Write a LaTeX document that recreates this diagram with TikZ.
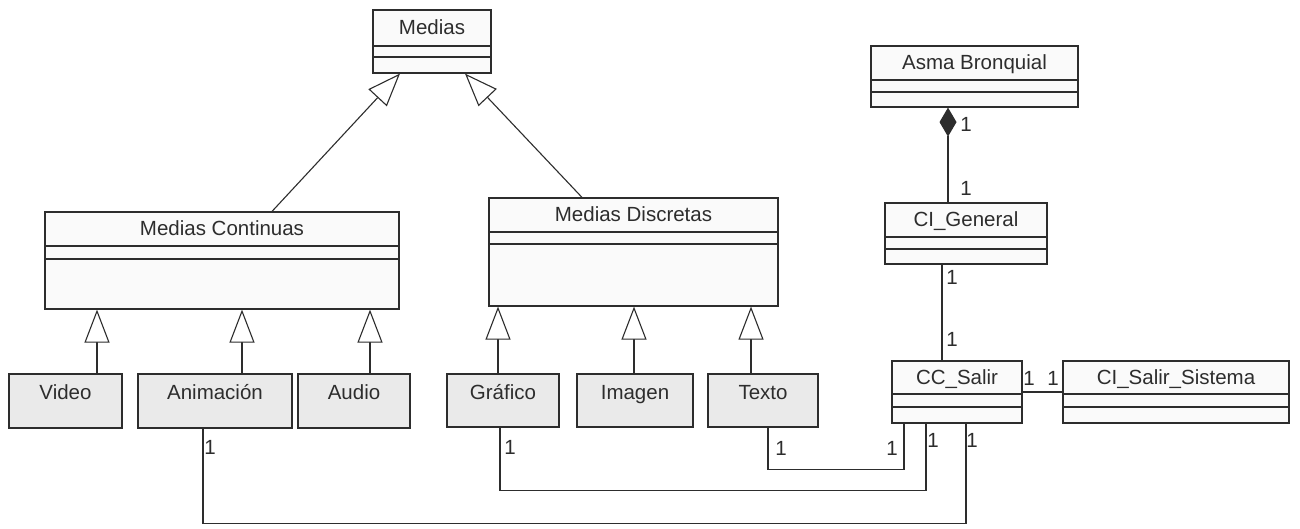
\documentclass[tikz,border=0pt]{standalone}
\usepackage{fontspec}
\setmainfont{Liberation Sans}
\usetikzlibrary{arrows.meta,fit}

\definecolor{ink}{RGB}{45,45,45}
\definecolor{leaf}{RGB}{234,234,234}
\definecolor{paper}{RGB}{250,250,250}

\tikzset{
  frame/.style={draw=ink, line width=1.2pt},
  classbox/.style={frame, fill=paper, inner sep=0pt},
  leafbox/.style={frame, fill=leaf, inner sep=0pt},
  lbl/.style={font=\fontsize{20.5}{24}\selectfont, text=ink, inner sep=0pt},
  gen/.style={draw=ink, line width=1.1pt,
    -{Triangle[open, length=33pt, width=25pt, fill=white]}},
  comp/.style={draw=ink, line width=1.1pt,
    -{Diamond[length=29pt, width=17pt, fill=ink]}},
  assoc/.style={draw=ink, line width=1.1pt},
}

% class with name, two empty compartments: id, x1, y1, x2, y2, sep1, sep2, title
\newcommand{\umlclass}[8]{%
  \node[classbox, fit={(#2,#3) (#4,#5)}] (#1) {};
  \draw[frame] (#2,#6) -- (#4,#6) (#2,#7) -- (#4,#7);
  \node[lbl, anchor=base] (#1-title) at ({(#2+#4)/2},{(#3+#6)/2+7}) {#8};
}
% shaded leaf class: id, x1, y1, x2, y2, title
\newcommand{\umlleaf}[6]{%
  \node[leafbox, fit={(#2,#3) (#4,#5)}] (#1) {};
  \node[lbl, anchor=base] (#1-title) at ({(#2+#4)/2},399) {#6};
}

\begin{document}
\begin{tikzpicture}[x=1pt, y=-1pt]
  \fill[white] (0,0) rectangle (1300,529);
  \useasboundingbox (0,0) rectangle (1300,529);

  % classes
  \umlclass{medias}{373}{10}{491}{73}{46}{57}{Medias}
  \umlclass{mc}{45}{212}{399}{309}{246}{259}{Medias Continuas}
  \umlclass{md}{489}{198}{778}{306}{232}{244}{Medias Discretas}
  \umlclass{asma}{871}{46}{1078}{107}{80}{92}{Asma Bronquial}
  \umlclass{cig}{885}{203}{1047}{264}{237}{249}{CI\_General}
  \umlclass{ccs}{892}{361}{1022}{423}{394}{407}{CC\_Salir}
  \umlclass{css}{1063}{361}{1289}{423}{394}{407}{CI\_Salir\_Sistema}

  % media kinds
  \umlleaf{video}{9}{374}{122}{428}{Video}
  \umlleaf{anim}{138}{374}{292}{428}{Animación}
  \umlleaf{audio}{298}{374}{410}{428}{Audio}
  \umlleaf{graf}{447}{374}{559}{427}{Gráfico}
  \umlleaf{imagen}{577}{374}{693}{427}{Imagen}
  \umlleaf{texto}{708}{374}{818}{427}{Texto}

  % generalizations
  \draw[gen] (mc.north -| 272,0) -- (medias.south -| 400,0);
  \draw[gen] (md.north -| 582,0) -- (medias.south -| 465,0);
  \draw[gen] (video.north -| 97,0) -- (mc.south -| 97,0);
  \draw[gen] (anim.north -| 242,0) -- (mc.south -| 242,0);
  \draw[gen] (audio.north -| 370,0) -- (mc.south -| 370,0);
  \draw[gen] (graf.north -| 498,0) -- (md.south -| 498,0);
  \draw[gen] (imagen.north -| 634,0) -- (md.south -| 634,0);
  \draw[gen] (texto.north -| 751,0) -- (md.south -| 751,0);

  % composition and associations
  \draw[comp] (cig.north -| 948,0) -- (asma.south -| 948,0);
  \draw[assoc] (cig.south -| 942,0) -- (ccs.north -| 942,0);
  \draw[assoc] (ccs.east |- 0,392) -- (css.west |- 0,392);
  \draw[assoc] (texto.south -| 768,0) -- ++(0,42) -| (ccs.south -| 904,0);
  \draw[assoc] (graf.south -| 500,0) -- ++(0,63) -| (ccs.south -| 926,0);
  \draw[assoc] (anim.south -| 203,0) -- ++(0,95) -| (ccs.south -| 966,0);

  % multiplicities
  \node[lbl] (m1) at (966,124) {1};
  \node[lbl] (m2) at (966,188) {1};
  \node[lbl] (m3) at (952,277) {1};
  \node[lbl] (m4) at (952,339) {1};
  \node[lbl] (m5) at (1029,378) {1};
  \node[lbl] (m6) at (1053,378) {1};
  \node[lbl] (m7) at (210,447) {1};
  \node[lbl] (m8) at (510,447) {1};
  \node[lbl] (m9) at (781,448) {1};
  \node[lbl] (m10) at (892,448) {1};
  \node[lbl] (m11) at (933,440) {1};
  \node[lbl] (m12) at (972,440) {1};
\end{tikzpicture}
\end{document}
